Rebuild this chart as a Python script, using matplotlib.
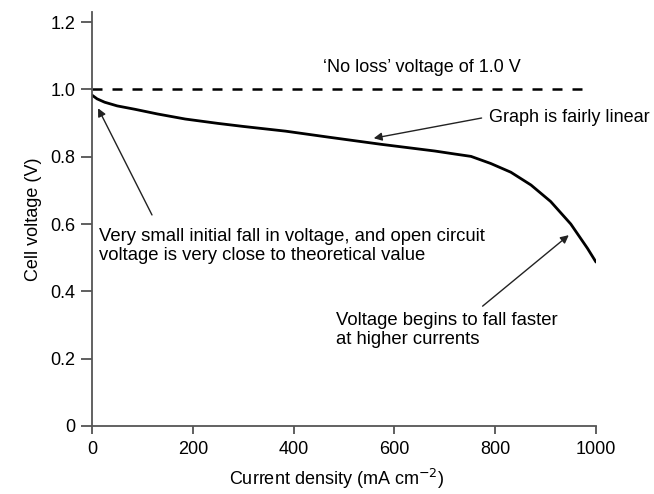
import matplotlib
matplotlib.use("Agg")
import matplotlib.pyplot as plt

# Data
current = [0, 10, 25, 50, 85, 130, 185, 250, 300, 384, 470, 573, 680, 720, 752,
           791, 831, 871, 910, 950, 983, 1000]
voltage = [0.983, 0.972, 0.962, 0.951, 0.941, 0.927, 0.912, 0.899, 0.890, 0.876,
           0.858, 0.837, 0.817, 0.808, 0.801, 0.780, 0.754, 0.716, 0.667, 0.600,
           0.528, 0.487]
no_loss_x = [0, 980]
no_loss_y = [1.0, 1.0]
xticks = [0, 200, 400, 600, 800, 1000]
yticks = [0, 0.2, 0.4, 0.6, 0.8, 1.0, 1.2]
ytick_labels = ["0", "0.2", "0.4", "0.6", "0.8", "1.0", "1.2"]

plt.rcParams['font.family'] = ['Liberation Sans', 'DejaVu Sans']

fig = plt.figure(figsize=(6.54, 4.94), dpi=100)
ax = fig.add_axes([0.1407, 0.1377, 0.7706, 0.838])

ax.plot(current, voltage, color='black', lw=2.0, solid_capstyle='round',
        solid_joinstyle='round')
ax.plot(no_loss_x, no_loss_y, color='black', lw=1.8, dashes=(4, 4))

ax.set_xlim(0, 1000)
ax.set_ylim(0, 1.23)
ax.set_xticks(xticks)
ax.set_yticks(yticks)
ax.set_yticklabels(ytick_labels)

for s in ['top', 'right']:
    ax.spines[s].set_visible(False)
for s in ['left', 'bottom']:
    ax.spines[s].set_color('#555555')
    ax.spines[s].set_linewidth(1.3)

ax.tick_params(axis='y', direction='out', length=8, width=1.2, color='#444444',
               labelsize=13, pad=4)
ax.tick_params(axis='x', direction='out', length=6, width=1.2, color='#444444',
               labelsize=13, pad=5)

ax.set_xlabel('Current density (mA cm$^{-2}$)', fontsize=13, labelpad=7)
ax.xaxis.set_label_coords(0.485, -0.1)
ax.set_ylabel('Cell voltage (V)', fontsize=13, labelpad=6)

arrow = dict(arrowstyle='-|>', lw=1.0, color='#222222', mutation_scale=12,
             shrinkA=0, shrinkB=0)

ax.text(459, 1.066, "\u2018No loss\u2019 voltage of 1.0 V", fontsize=13,
        ha='left', va='center')

ax.text(787, 0.918, "Graph is fairly linear", fontsize=13,
        ha='left', va='center')
ax.annotate("", xy=(559, 0.855), xytext=(773, 0.915), arrowprops=arrow)

ax.text(14, 0.535, "Very small initial fall in voltage, and open circuit\n"
        "voltage is very close to theoretical value", fontsize=13.3,
        ha='left', va='center', linespacing=1.15)
ax.annotate("", xy=(12, 0.944), xytext=(119, 0.627), arrowprops=arrow)

ax.text(485, 0.285, "Voltage begins to fall faster\nat higher currents",
        fontsize=13.3, ha='left', va='center', linespacing=1.15)
ax.annotate("", xy=(946, 0.567), xytext=(775, 0.356), arrowprops=arrow)

fig.savefig("out.png", dpi=100)
